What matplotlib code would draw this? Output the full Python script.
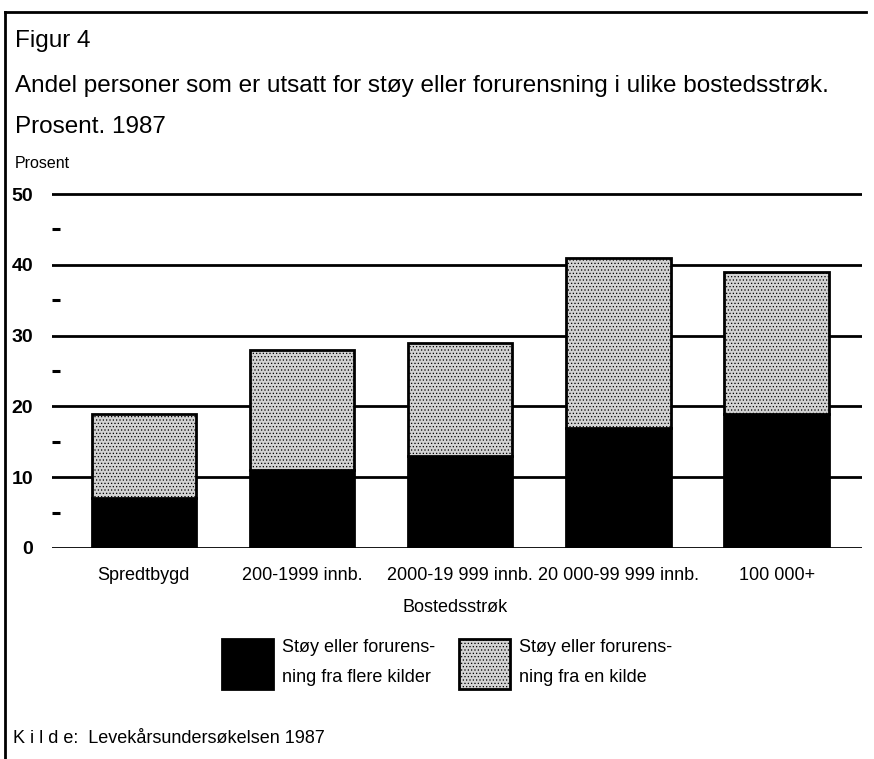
import numpy as np
import matplotlib
matplotlib.use("Agg")
import matplotlib.pyplot as plt
from matplotlib import font_manager
from matplotlib.lines import Line2D

# data (prosent)
categories = ["Spredtbygd", "200-1999 innb.", "2000-19 999 innb.",
              "20 000-99 999 innb.", "100 000+"]
flere_kilder = [7, 11, 13, 17, 19]
en_kilde = [12, 17, 16, 24, 20]
label_flere = "Støy eller forurens-\nning fra flere kilder"
label_en = "Støy eller forurens-\nning fra en kilde"

names = {f.name for f in font_manager.fontManager.ttflist}
fam = "Liberation Sans Narrow" if "Liberation Sans Narrow" in names else "Liberation Sans"
plt.rcParams["font.family"] = [fam, "DejaVu Sans"]
plt.rcParams["hatch.color"] = "#444444"
plt.rcParams["hatch.linewidth"] = 0.5

W, H = 874, 759
fig = plt.figure(figsize=(W / 100, H / 100), dpi=100)


def fx(px):
    return px / W


def fy(py):
    return 1 - py / H


ax = fig.add_axes([fx(52), fy(548), fx(862) - fx(52), (548 - 187) / H])
x = np.arange(len(categories))
width = 0.66

for yv in range(0, 51, 10):
    ax.axhline(yv, color="black", lw=2, zorder=0)

ax.bar(x, flere_kilder, width, color="black", edgecolor="black", lw=2,
       zorder=2, label=label_flere)
ax.bar(x, en_kilde, width, bottom=flere_kilder, color="#d2d2d2",
       edgecolor="black", lw=2, hatch=".....", zorder=2, label=label_en)

ax.set_xlim(-0.58, 4.54)
ax.set_ylim(0, 51)
ax.set_yticks(range(0, 51, 10))
ax.set_yticks(range(5, 50, 10), minor=True)
ax.tick_params(axis="y", which="major", length=0, pad=13.5, labelsize=14)
ax.tick_params(axis="y", which="minor", direction="in", length=6, width=2.2)
for t in ax.get_yticklabels():
    t.set_fontweight("bold")
ax.set_xticks(x)
ax.set_xticklabels(categories)
ax.tick_params(axis="x", length=0, pad=14, labelsize=13)
for s in ax.spines.values():
    s.set_visible(False)

fig.text(fx(15), fy(47), "Figur 4", fontsize=17.5, va="baseline")
fig.text(fx(15), fy(92),
         "Andel personer som er utsatt for støy eller forurensning i ulike bostedsstrøk.",
         fontsize=17.5, va="baseline")
fig.text(fx(15), fy(133), "Prosent. 1987", fontsize=17.5, va="baseline")
fig.text(fx(15), fy(168), "Prosent", fontsize=11.5, va="baseline")
fig.text(fx(455), fy(612), "Bostedsstrøk", fontsize=13, ha="center", va="baseline")
fig.text(fx(13), fy(743), "K i l d e:  Levekårsundersøkelsen 1987", fontsize=13,
         va="baseline")

h, l = ax.get_legend_handles_labels()
leg = fig.legend(h, l, loc="center", bbox_to_anchor=(fx(447), fy(664)), ncol=2,
                 frameon=False, fontsize=13, handlelength=2.83, handleheight=3.88,
                 handletextpad=0.5, columnspacing=1.3)
for t in leg.get_texts():
    t.set_linespacing(1.95)

fig.add_artist(Line2D([fx(5), fx(5)], [0, fy(12)], color="black", lw=2))
fig.add_artist(Line2D([fx(5), fx(866)], [fy(12), fy(12)], color="black", lw=2))

fig.savefig("out.png", dpi=100)
